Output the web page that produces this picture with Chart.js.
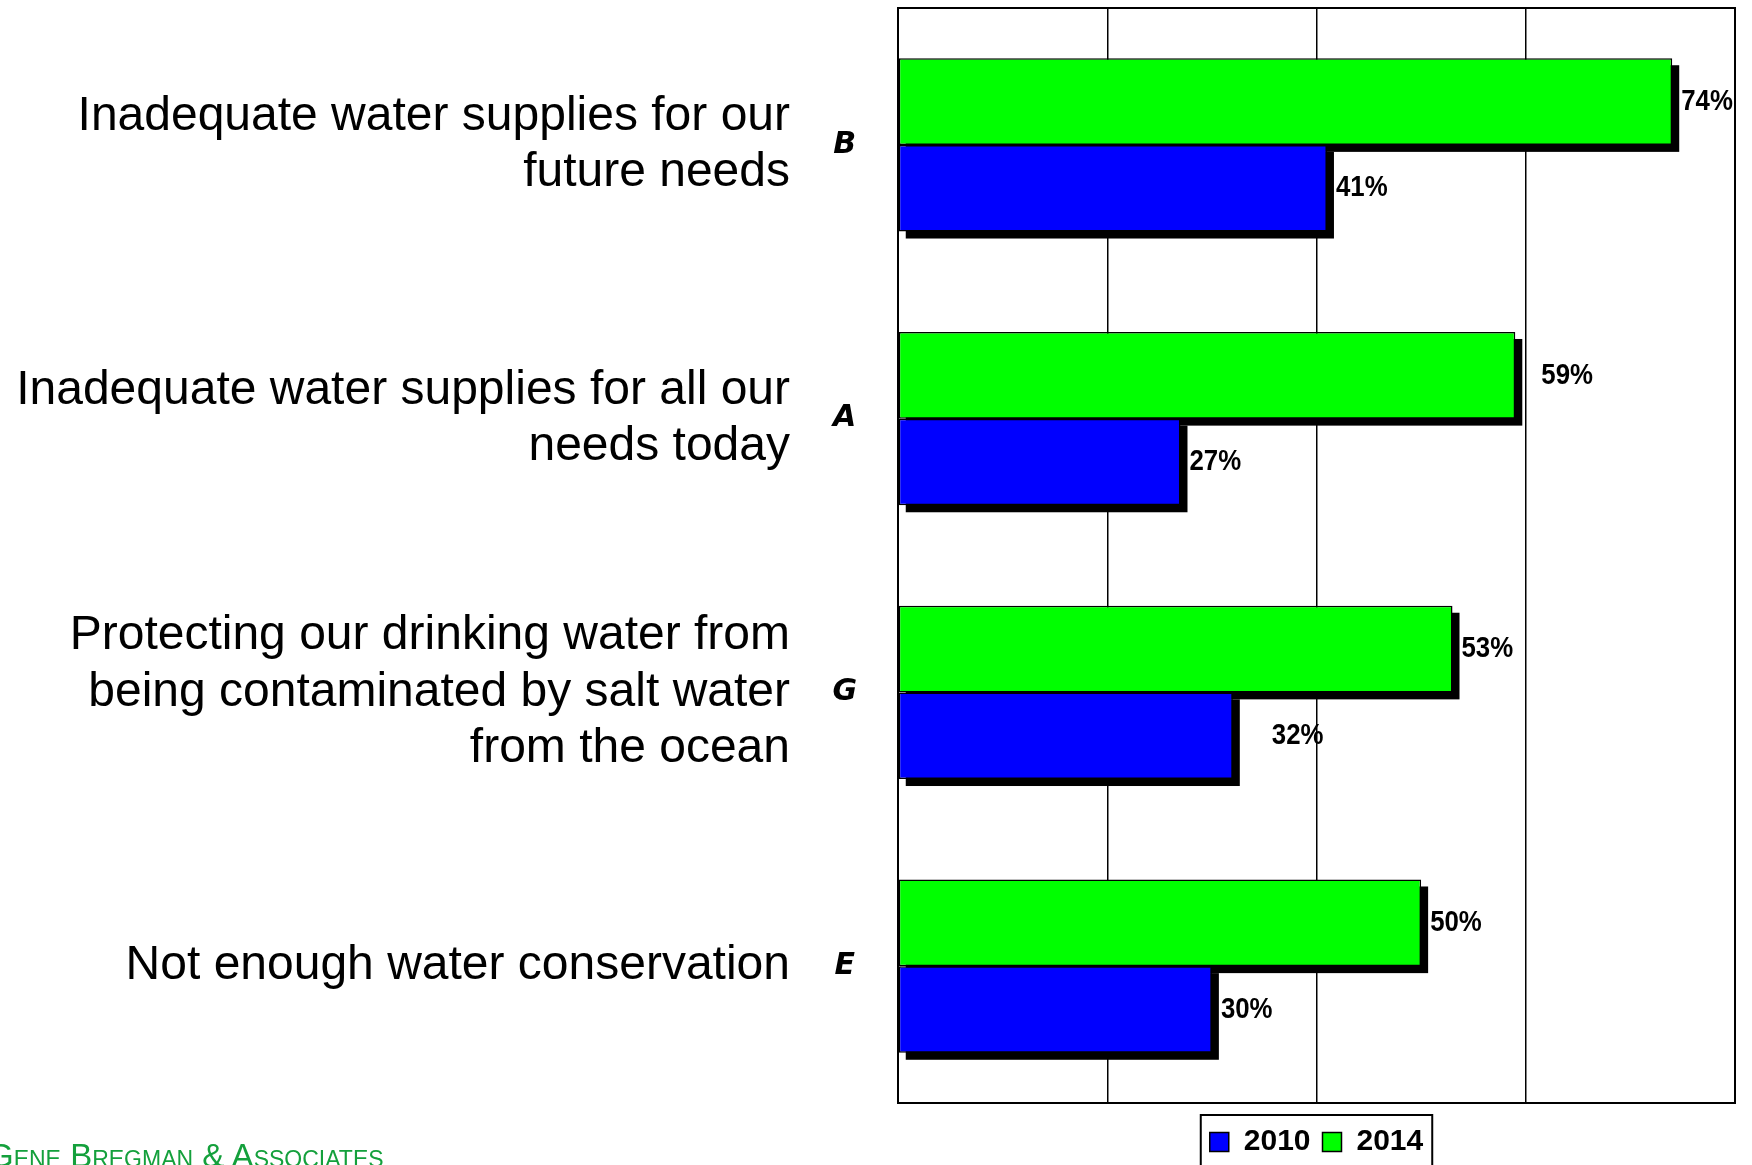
<!DOCTYPE html>
<html>
<head>
<meta charset="utf-8">
<script src="https://cdn.jsdelivr.net/npm/chart.js@4/dist/chart.umd.min.js"></script>
<style>
  html, body { margin: 0; padding: 0; background: #fff; overflow: hidden; }
  #wrap { position: relative; width: 1752px; height: 1190px; }
  #brand {
    position: absolute; left: -12px; top: 1139px;
    font-family: "Liberation Sans", Arial, sans-serif;
    font-size: 33px; line-height: 33px; font-variant: small-caps;
    color: #14a03c; white-space: nowrap;
  }
</style>
</head>
<body>
<div id="wrap">
  <canvas id="c" width="1752" height="1190"></canvas>
  <div id="brand">Gene Bregman &amp; Associates</div>
</div>
<script>
// Survey items (multi-line labels), their item codes, and the two survey years
const categories = [
  ['Inadequate water supplies for our', 'future needs'],
  ['Inadequate water supplies for all our', 'needs today'],
  ['Protecting our drinking water from', 'being contaminated by salt water', 'from the ocean'],
  ['Not enough water conservation']
];
const itemCodes = ['B', 'A', 'G', 'E'];
const years = ['2014', '2010'];
const values2014 = [74, 59, 53, 50];
const values2010 = [41, 27, 32, 30];
const axisMin = 0;
const axisMax = 80;
const axisStep = 20;

// Black frame around the plot plus offset drop shadows under every bar
const frameAndShadows = {
  id: 'frameAndShadows',
  beforeDatasetsDraw(chart, args, opts) {
    const { ctx, chartArea: a } = chart;
    ctx.save();
    ctx.strokeStyle = '#000';
    ctx.lineWidth = 2;
    ctx.strokeRect(a.left, a.top, a.right - a.left, a.bottom - a.top);
    ctx.fillStyle = '#000';
    const off = opts.offset;
    chart.data.datasets.forEach((ds, di) => {
      const meta = chart.getDatasetMeta(di);
      meta.data.forEach(bar => {
        const p = bar.getProps(['x', 'y', 'base', 'height'], true);
        const l = Math.min(p.base, p.x), r = Math.max(p.base, p.x);
        ctx.fillRect(l + off, p.y - p.height / 2 + off, r - l, p.height);
      });
    });
    ctx.restore();
  }
};

// Percentage written just past the end of each bar, in a condensed bold face
const valueLabels = {
  id: 'valueLabels',
  afterDatasetsDraw(chart, args, opts) {
    const ctx = chart.ctx;
    chart.data.datasets.forEach((ds, di) => {
      const meta = chart.getDatasetMeta(di);
      meta.data.forEach((bar, i) => {
        const shift = (opts.shift[di] && opts.shift[di][i]) || 0;
        ctx.save();
        ctx.translate(bar.x + opts.gap + shift, bar.y);
        ctx.scale(opts.squeeze, 1);
        ctx.font = opts.font;
        ctx.fillStyle = '#000';
        ctx.textAlign = 'left';
        ctx.textBaseline = 'middle';
        ctx.fillText(ds.data[i] + '%', 0, 0);
        ctx.restore();
      });
    });
  }
};

// Outline box around the legend
const legendFrame = {
  id: 'legendFrame',
  afterDraw(chart) {
    const lg = chart.legend;
    if (!lg || !lg.legendHitBoxes || !lg.legendHitBoxes.length) return;
    const hb = lg.legendHitBoxes;
    const first = hb[0], last = hb[hb.length - 1];
    const ctx = chart.ctx;
    ctx.save();
    ctx.strokeStyle = '#000';
    ctx.lineWidth = 2;
    const l = first.left - 9, r = last.left + last.width + 9;
    ctx.strokeRect(l, lg.top, r - l, 90);
    ctx.restore();
  }
};

function noEdgePadding(s) {
  s.paddingTop = 0;
  s.paddingBottom = 0;
}

new Chart(document.getElementById('c'), {
  type: 'bar',
  data: {
    labels: categories,
    datasets: [
      {
        label: years[0], data: values2014,
        backgroundColor: '#00ff00', borderColor: '#000', borderWidth: 1.5, borderSkipped: false
      },
      {
        label: years[1], data: values2010,
        backgroundColor: '#0000ff', borderColor: '#000', borderWidth: 1.5, borderSkipped: false
      }
    ]
  },
  options: {
    indexAxis: 'y',
    responsive: false,
    animation: false,
    devicePixelRatio: 1,
    layout: { padding: { top: 8, right: 17, left: 0, bottom: 23 } },
    datasets: { bar: { categoryPercentage: 0.633, barPercentage: 1.0 } },
    scales: {
      x: {
        min: axisMin, max: axisMax,
        ticks: { display: false, stepSize: axisStep },
        grid: { color: '#000', lineWidth: 1.5, drawTicks: false },
        border: { display: true, color: '#000', width: 2 },
        afterFit(s) { s.height = 12; }
      },
      y: {
        position: 'left', weight: 2,
        grid: { display: false, drawTicks: false },
        border: { display: false },
        ticks: {
          color: '#000', padding: 0, crossAlign: 'near', autoSkip: false,
          font: { family: '"Liberation Sans", Arial, sans-serif', size: 48, lineHeight: 1.17 }
        },
        afterFit(s) { s.width = 790; noEdgePadding(s); }
      },
      code: {
        type: 'category', labels: itemCodes, position: 'left', weight: 1, offset: true,
        grid: { display: false, drawTicks: false },
        border: { display: false },
        ticks: {
          color: '#000', padding: 41, crossAlign: 'center', autoSkip: false,
          font: { family: '"DejaVu Sans", "Liberation Sans", sans-serif', size: 30, weight: 'bold', style: 'italic' }
        },
        afterFit(s) { s.width = 108; noEdgePadding(s); }
      }
    },
    plugins: {
      legend: {
        position: 'bottom', fullSize: false, reverse: true,
        labels: {
          boxWidth: 19, boxHeight: 19, padding: 12, color: '#000',
          font: { family: '"Liberation Sans", Arial, sans-serif', size: 30, weight: 'bold' }
        }
      },
      tooltip: { enabled: false },
      frameAndShadows: { offset: 7 },
      valueLabels: {
        font: 'bold 30px "Liberation Sans", Arial, sans-serif',
        squeeze: 0.86,
        gap: 9,
        shift: [[0, 17, 0, 0], [0, 0, 30, 0]]
      }
    }
  },
  plugins: [frameAndShadows, valueLabels, legendFrame]
});
</script>
</body>
</html>
